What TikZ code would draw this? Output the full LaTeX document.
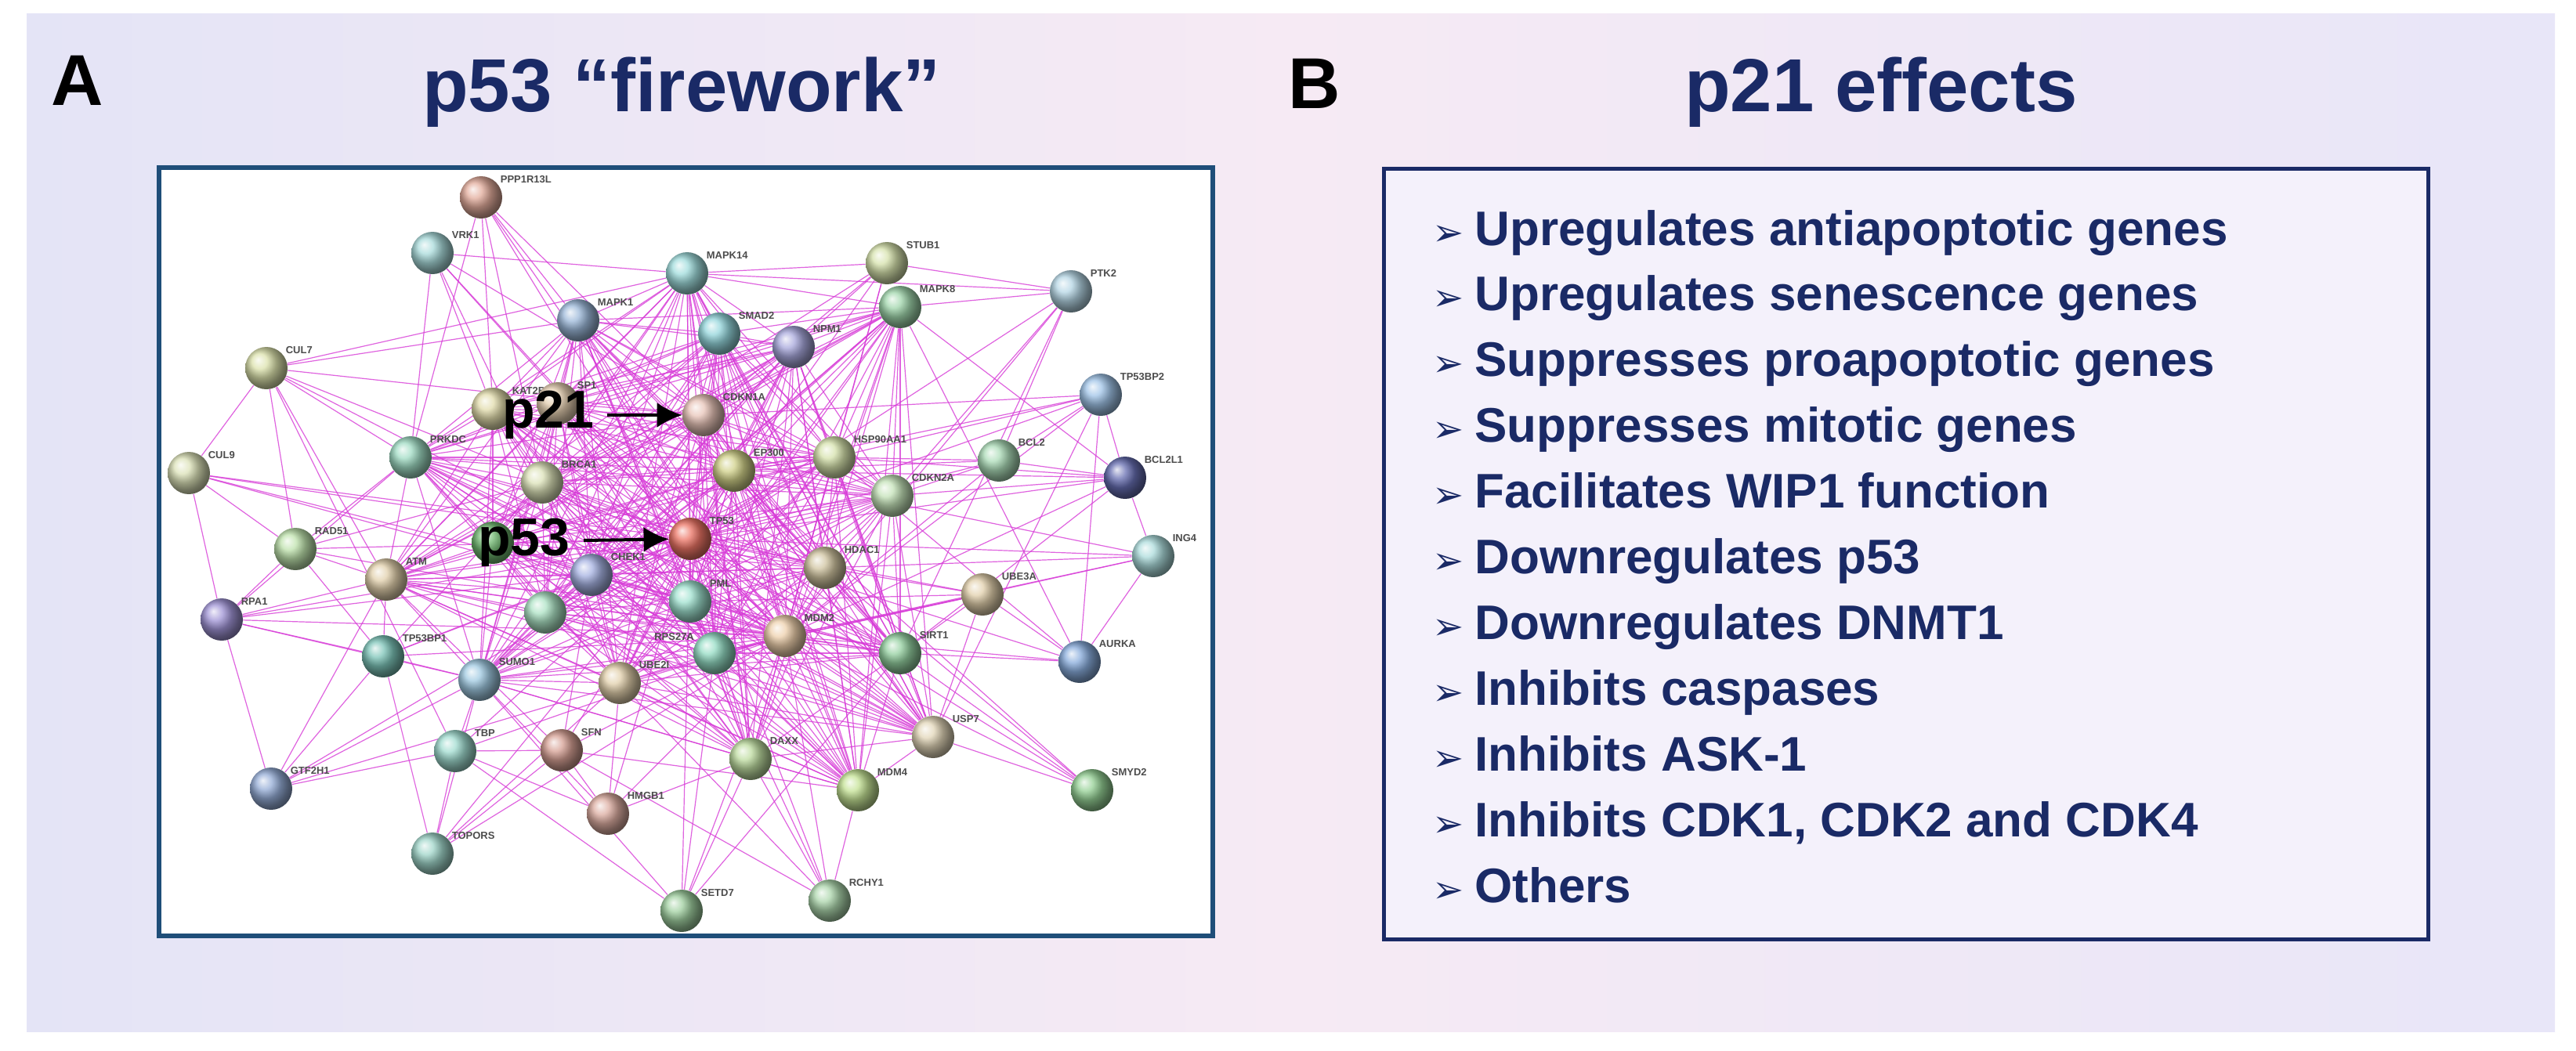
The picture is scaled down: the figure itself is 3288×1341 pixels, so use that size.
\documentclass[tikz,border=0pt]{standalone}
\usepackage{fontspec}
\setmainfont{Liberation Sans}
\newfontfamily\dvs{DejaVu Sans}
\usetikzlibrary{arrows.meta}
\begin{document}
\pgfdeclarelayer{bg}\pgfdeclarelayer{edges}\pgfsetlayers{bg,edges,main}
\definecolor{navy}{HTML}{1A2A66}
\definecolor{boxA}{HTML}{1F4E79}
\definecolor{edgec}{HTML}{D83CD8}
\definecolor{bgl}{RGB}{228,228,246}
\definecolor{bgr}{RGB}{232,230,248}
\definecolor{bgm}{RGB}{246,234,244}
\definecolor{boxBfill}{RGB}{244,241,251}
\begin{tikzpicture}[x=0.5pt,y=-0.5pt,
  g/.style={circle,minimum size=27pt,inner sep=0pt,/utils/exec={\definecolor{tmpc}{RGB}{#1}},ball color=tmpc!75!white},
  lbl/.style={font=\fontsize{6.5}{7}\selectfont\bfseries,text=black!70,inner sep=1pt},
  e/.style={edgec,line width=0.6pt,opacity=0.8},
  item/.style={anchor=base west,font=\fontsize{31}{34}\selectfont\bfseries,text=navy,inner sep=0pt},
  ttl/.style={font=\fontsize{48}{54}\selectfont\bfseries,text=navy},
  big/.style={font=\fontsize{34}{38}\selectfont\bfseries,text=black,inner sep=1pt},
  arr/.style={line width=2pt,-{Latex[length=16pt,width=16pt]}}]
\useasboundingbox (0,0) rectangle (3288,1341);
\begin{pgfonlayer}{bg}
\fill[white] (0,0) rectangle (3288,1341);
\shade[left color=bgl,right color=bgr,middle color=bgm] (34,17) rectangle (3261,1317);
\node[draw=boxA,line width=3pt,fill=white,minimum width=1345*0.5pt,minimum height=981*0.5pt,inner sep=0] (boxa) at (875.5,704.5) {};
\node[draw=navy,line width=2.5pt,fill=boxBfill,minimum width=1333*0.5pt,minimum height=984*0.5pt,inner sep=0] (boxb) at (2432.5,707) {};
\end{pgfonlayer}
\node[font=\fontsize{46}{50}\selectfont\bfseries] (la) at (99,103) {A};
\node[font=\fontsize{46}{50}\selectfont\bfseries] (lb) at (1678,107) {B};
\node[ttl] (ta) at (870,118) {p53 “firework”};
\node[ttl] (tb) at (2401,118) {p21 effects};
% network nodes
\node[g={217,144,122},label={[lbl]35:PPP1R13L}] (ppp) at (614,252) {};
\node[g={140,207,207},label={[lbl]35:VRK1}] (vrk) at (552,323) {};
\node[g={127,208,208},label={[lbl]35:MAPK14}] (mk14) at (877,349) {};
\node[g={200,216,144},label={[lbl]35:STUB1}] (stub) at (1132,336) {};
\node[g={156,200,220},label={[lbl]35:PTK2}] (ptk) at (1367,372) {};
\node[g={128,200,144},label={[lbl]35:MAPK8}] (mk8) at (1149,392) {};
\node[g={122,160,204},label={[lbl]35:MAPK1}] (mk1) at (738,409) {};
\node[g={112,200,208},label={[lbl]35:SMAD2}] (smad) at (918,426) {};
\node[g={138,138,208},label={[lbl]35:NPM1}] (npm) at (1013,443) {};
\node[g={208,216,144},label={[lbl]35:CUL7}] (cul7) at (340,470) {};
\node[g={128,176,224},label={[lbl]35:TP53BP2}] (bp2) at (1405,504) {};
\node[g={216,208,144},label={[lbl]35:KAT2B}] (kat) at (629,522) {};
\node[g={220,190,150},label={[lbl]35:SP1}] (sp1) at (712,515) {};
\node[g={224,176,160},label={[lbl]35:CDKN1A}] (cdk1a) at (898,530) {};
\node[g={128,208,176},label={[lbl]35:PRKDC}] (prk) at (524,584) {};
\node[g={200,216,144},label={[lbl]35:HSP90AA1}] (hsp) at (1065,584) {};
\node[g={144,208,160},label={[lbl]35:BCL2}] (bcl2) at (1275,588) {};
\node[g={192,192,96},label={[lbl]35:EP300}] (ep) at (937,601) {};
\node[g={208,216,160},label={[lbl]35:CUL9}] (cul9) at (241,604) {};
\node[g={50,60,150},label={[lbl]35:BCL2L1}] (bcl2l) at (1436,610) {};
\node[g={208,216,160},label={[lbl]35:BRCA1}] (brca) at (692,616) {};
\node[g={176,216,160},label={[lbl]35:CDKN2A}] (cdk2a) at (1139,633) {};
\node[g={64,160,64}] (hid) at (629,693) {};
\node[g={230,70,50},label={[lbl]35:TP53}] (tp53) at (881,688) {};
\node[g={144,208,208},label={[lbl]35:ING4}] (ing4) at (1472,710) {};
\node[g={168,216,144},label={[lbl]35:RAD51}] (rad) at (377,701) {};
\node[g={192,176,128},label={[lbl]35:HDAC1}] (hdac) at (1053,725) {};
\node[g={216,192,144},label={[lbl]35:ATM}] (atm) at (493,740) {};
\node[g={136,152,216},label={[lbl]35:CHEK1}] (chek) at (755,734) {};
\node[g={216,192,144},label={[lbl]35:UBE3A}] (ube3a) at (1254,759) {};
\node[g={128,216,192},label={[lbl]35:PML}] (pml) at (881,768) {};
\node[g={144,216,176}] (unl) at (696,782) {};
\node[g={128,112,200},label={[lbl]35:RPA1}] (rpa) at (283,791) {};
\node[g={232,192,144},label={[lbl]35:MDM2}] (mdm2) at (1002,812) {};
\node[g={112,208,176},label={[lbl]150:RPS27A}] (rps) at (912,834) {};
\node[g={112,192,128},label={[lbl]35:SIRT1}] (sirt) at (1149,834) {};
\node[g={80,176,160},label={[lbl]35:TP53BP1}] (bp1) at (489,838) {};
\node[g={96,144,208},label={[lbl]35:AURKA}] (aurka) at (1378,845) {};
\node[g={128,184,216},label={[lbl]35:SUMO1}] (sumo) at (612,868) {};
\node[g={216,192,144},label={[lbl]35:UBE2I}] (ube2i) at (791,872) {};
\node[g={216,200,160},label={[lbl]35:USP7}] (usp7) at (1191,941) {};
\node[g={128,208,192},label={[lbl]35:TBP}] (tbp) at (581,959) {};
\node[g={200,128,112},label={[lbl]35:SFN}] (sfn) at (717,958) {};
\node[g={168,208,128},label={[lbl]35:DAXX}] (daxx) at (958,969) {};
\node[g={112,144,200},label={[lbl]35:GTF2H1}] (gtf) at (346,1007) {};
\node[g={176,216,112},label={[lbl]35:MDM4}] (mdm4) at (1095,1009) {};
\node[g={112,192,112},label={[lbl]35:SMYD2}] (smyd) at (1394,1009) {};
\node[g={208,144,128},label={[lbl]35:HMGB1}] (hmgb) at (776,1039) {};
\node[g={128,200,184},label={[lbl]35:TOPORS}] (topors) at (552,1090) {};
\node[g={144,200,144},label={[lbl]35:RCHY1}] (rchy) at (1059,1150) {};
\node[g={128,192,128},label={[lbl]35:SETD7}] (setd7) at (870,1163) {};
% edges
\begin{pgfonlayer}{edges}
\foreach \n in {ppp,vrk,mk14,stub,ptk,mk8,mk1,smad,npm,cul7,bp2,kat,sp1,cdk1a,prk,hsp,bcl2,ep,cul9,bcl2l,brca,cdk2a,hid,ing4,rad,hdac,atm,chek,ube3a,pml,unl,rpa,mdm2,rps,sirt,bp1,aurka,sumo,ube2i,usp7,tbp,sfn,daxx,gtf,mdm4,smyd,hmgb,topors,rchy,setd7}
  \draw[e] (tp53) -- (\n);
\foreach \n in {ppp,vrk,mk14,stub,ptk,mk8,mk1,smad,npm,cul7,bp2,kat,sp1,cdk1a,prk,hsp,bcl2,ep,cul9,bcl2l,brca,cdk2a,hid,ing4,rad,hdac,atm,chek,ube3a,pml,unl,rpa,rps,sirt,bp1,aurka,sumo,ube2i,usp7,tbp,sfn,daxx,gtf,mdm4,smyd,hmgb,topors,rchy,setd7}
  \draw[e] (mdm2) -- (\n);
\foreach \a [count=\i] in {cdk1a,hdac,pml,mk1,mk14,hsp,brca,atm,chek,sirt,ube2i,sumo,rps,mdm4,daxx,usp7,smad,npm,mk8,cdk2a,unl,prk,kat,sp1,hid,ep}
  \foreach \b [count=\j] in {cdk1a,hdac,pml,mk1,mk14,hsp,brca,atm,chek,sirt,ube2i,sumo,rps,mdm4,daxx,usp7,smad,npm,mk8,cdk2a,unl,prk,kat,sp1,hid,ep}
    {\ifnum\i<\j \draw[e] (\a) -- (\b);\fi}
\foreach \a/\b in {ppp/mk1,ppp/kat,ppp/brca,ppp/cdk1a,ppp/prk,vrk/prk,vrk/mk14,vrk/cdk1a,vrk/brca,vrk/kat,
 cul7/cul9,cul7/mk1,cul7/mk14,cul7/rad,cul7/tbp,cul7/prk,cul7/cdk1a,cul7/atm,cul9/rad,cul9/hdac,cul9/chek,
 stub/ptk,stub/hsp,stub/mk14,stub/npm,stub/cdk1a,stub/brca,ptk/mk8,ptk/mk14,ptk/bcl2,ptk/cdk2a,ptk/sirt,
 bp2/bcl2,bp2/bcl2l,bp2/aurka,bp2/hsp,bp2/cdk1a,bp2/ep,bp2/usp7,bcl2l/bcl2,bcl2l/ing4,bcl2l/cdk2a,bcl2l/hsp,bcl2l/ep,bcl2l/sirt,bcl2l/mk8,
 ing4/aurka,ing4/hdac,ing4/ep,ing4/rps,aurka/sirt,aurka/ube3a,aurka/hsp,aurka/mk8,
 smyd/sirt,smyd/usp7,smyd/hdac,smyd/ep,rchy/mdm4,rchy/ube2i,rchy/daxx,rchy/sfn,rchy/pml,
 setd7/sumo,setd7/tbp,setd7/daxx,setd7/sirt,setd7/rps,topors/tbp,topors/sumo,topors/bp1,topors/ube2i,topors/sfn,
 gtf/rpa,gtf/tbp,gtf/bp1,gtf/atm,gtf/sumo,rpa/rad,rpa/atm,rpa/chek,rpa/bp1,rpa/cul9,rpa/prk,rpa/sumo,
 hmgb/sfn,hmgb/sumo,hmgb/tbp,hmgb/ube2i,hmgb/daxx,ube3a/hdac,ube3a/usp7,ube3a/rps,ube3a/sirt,ube3a/pml,
 bp1/atm,bp1/sumo,bp1/chek,bp1/rad,bp1/brca,tbp/sumo,tbp/sfn,sfn/atm,sfn/chek,sfn/mdm4,rad/atm,rad/brca,rad/prk,
 bcl2/hsp,bcl2/cdk2a,ep/cdk1a,ep/hsp,ep/pml,ep/sirt,ep/usp7,ep/bcl2}
  \draw[e] (\a) -- (\b);
\end{pgfonlayer}
% annotations
\node[big] (p21) at (700,530) {p21};
\coordinate (p21a) at (775,530);
\draw[arr] (p21a) -- (cdk1a);
\node[big] (p53) at (669,693) {p53};
\coordinate (p53a) at (745,690);
\draw[arr] (p53a) -- (tp53);
% list
\foreach \t [count=\k] in {Upregulates antiapoptotic genes,Upregulates senescence genes,Suppresses proapoptotic genes,Suppresses mitotic genes,Facilitates WIP1 function,Downregulates p53,Downregulates DNMT1,Inhibits caspases,Inhibits ASK-1,{Inhibits CDK1, CDK2 and CDK4},Others}
  \node[item] (it\k) at (1828,{313+(\k-1)*83.9}) {{\dvs\fontsize{24}{28}\selectfont ➢}\hspace{7pt}\t};
\end{tikzpicture}
\end{document}
